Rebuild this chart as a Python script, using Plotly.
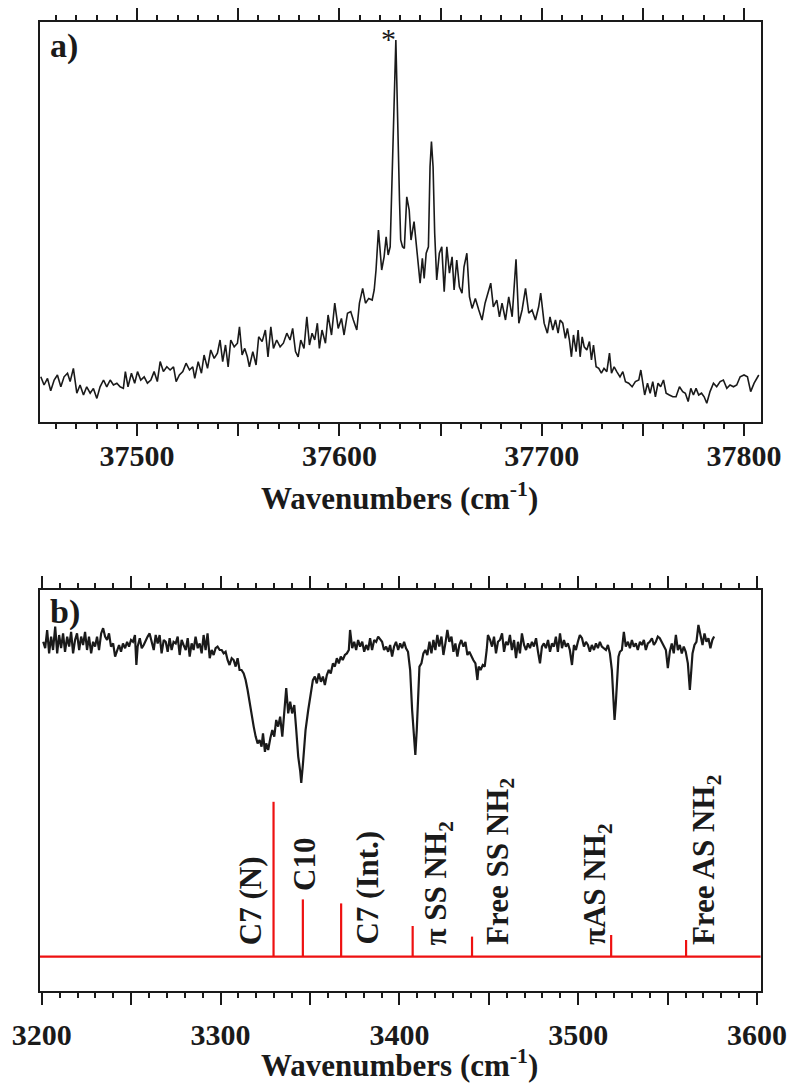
import plotly.graph_objects as go

# ---------------- panel a) : electronic spectrum ----------------
uv_wavenumber = [
    37452.4, 37454.0, 37455.7, 37457.3, 37459.0, 37460.6, 37462.3, 37463.9, 37465.6, 37466.9,
    37468.5, 37470.2, 37471.8, 37473.5, 37475.1, 37476.8, 37478.4, 37480.1, 37481.7, 37483.4,
    37485.0, 37486.7, 37488.3, 37490.0, 37491.6, 37493.2, 37494.2, 37495.5, 37497.2, 37498.8,
    37500.2, 37501.8, 37503.5, 37505.1, 37506.8, 37508.4, 37510.0, 37511.4, 37513.0, 37514.7,
    37516.3, 37518.0, 37519.3, 37520.9, 37522.6, 37524.2, 37525.9, 37527.5, 37528.5, 37530.2,
    37531.8, 37533.1, 37534.8, 37536.4, 37538.1, 37539.7, 37541.0, 37542.3, 37543.7, 37545.0,
    37546.3, 37548.0, 37549.6, 37550.6, 37551.9, 37553.2, 37554.5, 37555.5, 37557.2, 37558.8,
    37560.1, 37561.8, 37563.4, 37564.7, 37566.1, 37567.4, 37569.0, 37570.7, 37572.3, 37574.0,
    37575.6, 37576.9, 37578.3, 37579.6, 37580.9, 37582.5, 37583.9, 37585.2, 37586.5, 37587.8,
    37589.1, 37590.1, 37591.4, 37593.1, 37594.4, 37596.1, 37597.7, 37599.4, 37601.0, 37602.3,
    37604.0, 37605.6, 37606.9, 37608.6, 37609.9, 37611.5, 37612.9, 37614.5, 37616.2, 37617.2,
    37618.1, 37619.3, 37620.9, 37622.1, 37623.1, 37624.1, 37625.1, 37626.0, 37627.0, 37627.9,
    37628.5, 37629.0, 37629.7, 37630.3, 37631.2, 37632.1, 37633.3, 37634.5, 37635.4, 37636.9,
    37637.9, 37639.1, 37639.9, 37641.0, 37641.9, 37642.9, 37644.0, 37644.8, 37645.5, 37646.3,
    37647.1, 37648.1, 37649.4, 37650.6, 37651.8, 37653.1, 37654.4, 37655.7, 37656.7, 37658.0,
    37659.3, 37660.6, 37661.6, 37663.0, 37664.3, 37665.6, 37667.2, 37668.9, 37670.5, 37672.0,
    37673.7, 37674.8, 37676.1, 37677.8, 37679.1, 37680.4, 37682.1, 37683.7, 37685.4, 37687.3,
    37688.7, 37690.3, 37692.0, 37693.6, 37695.2, 37696.9, 37698.5, 37699.5, 37701.2, 37702.8,
    37704.1, 37705.5, 37706.8, 37708.1, 37709.1, 37710.4, 37711.7, 37712.7, 37713.7, 37714.7,
    37715.7, 37717.0, 37718.0, 37719.0, 37720.0, 37721.0, 37722.3, 37723.6, 37724.6, 37725.6,
    37726.9, 37728.2, 37729.5, 37730.8, 37732.2, 37733.5, 37734.5, 37735.8, 37737.1, 37738.7,
    37740.1, 37741.4, 37743.0, 37744.7, 37746.3, 37748.0, 37749.0, 37750.0, 37750.9, 37752.3,
    37753.6, 37754.9, 37756.2, 37757.5, 37758.8, 37760.2, 37761.5, 37763.1, 37764.8, 37766.4,
    37768.1, 37769.7, 37771.0, 37772.4, 37773.7, 37775.0, 37776.3, 37777.6, 37779.0, 37780.3,
    37781.6, 37783.2, 37784.9, 37786.5, 37788.2, 37789.8, 37791.5, 37793.1, 37794.8, 37796.4,
    37798.1, 37800.0, 37801.7, 37803.3, 37805.0, 37807.3,
]
uv_signal = [
    11.3, 9.25, 10.9, 7.8, 10.5, 11.75, 8.8, 11.3, 12.2, 10.1,
    13.4, 7.2, 9.25, 6.75, 8.8, 7.2, 8.4, 5.9, 8.8, 10.5,
    8.8, 10.5, 9.25, 9.7, 8.8, 8.4, 12.6, 8.8, 12.2, 9.7,
    12.6, 10.5, 11.3, 9.7, 10.5, 12.6, 10.1, 15.1, 12.6, 13.8,
    13.0, 13.8, 10.1, 11.75, 12.6, 14.7, 13.0, 13.8, 10.9, 15.1,
    12.2, 16.75, 13.4, 18.0, 15.9, 17.2, 20.5, 15.1, 19.25, 13.8,
    20.5, 18.8, 19.7, 23.8, 16.75, 18.4, 16.3, 13.8, 17.6, 14.25,
    21.3, 20.1, 23.0, 16.3, 23.8, 18.4, 20.5, 18.8, 19.7, 22.2,
    20.5, 23.4, 17.6, 16.3, 20.5, 18.4, 26.3, 19.25, 22.2, 20.5,
    24.7, 18.4, 23.0, 19.7, 26.75, 21.75, 29.7, 23.4, 25.9, 21.75,
    27.2, 27.6, 25.5, 23.0, 29.7, 33.4, 29.7, 30.9, 30.5, 33.0,
    38.0, 48.0, 38.0, 41.3, 46.3, 41.75, 43.8, 63.8, 78.8, 95.5,
    78.8, 70.9, 55.5, 45.5, 43.8, 43.4, 56.3, 53.0, 45.5, 50.1,
    44.7, 37.6, 34.7, 40.9, 35.9, 42.2, 43.8, 63.8, 70.1, 63.8,
    47.2, 35.5, 42.2, 43.8, 32.6, 43.8, 37.2, 41.3, 33.0, 40.5,
    33.8, 32.2, 38.8, 42.2, 31.3, 28.4, 30.9, 28.0, 25.5, 29.7,
    33.0, 34.7, 28.8, 30.5, 26.3, 29.7, 25.5, 31.3, 26.3, 40.7,
    24.7, 28.0, 33.4, 27.2, 28.0, 25.5, 28.8, 32.2, 24.7, 22.2,
    26.3, 23.0, 25.5, 22.2, 25.5, 24.7, 20.9, 23.4, 20.5, 16.3,
    21.75, 17.6, 23.0, 16.3, 21.3, 18.8, 18.0, 20.1, 15.5, 19.25,
    13.8, 13.4, 12.2, 13.4, 12.6, 17.2, 12.2, 13.8, 12.6, 11.3,
    12.6, 10.1, 9.7, 8.8, 10.1, 10.5, 13.0, 9.25, 6.75, 9.7,
    7.2, 10.1, 6.3, 9.7, 8.8, 10.5, 7.2, 6.75, 6.3, 6.3,
    8.8, 7.6, 7.2, 5.1, 8.4, 6.75, 8.4, 6.75, 7.2, 6.3,
    4.7, 7.6, 9.7, 8.8, 10.1, 10.5, 8.4, 9.25, 8.8, 9.25,
    11.3, 11.75, 11.3, 7.6, 9.7, 11.75,
]

# ---------------- panel b) : IR spectrum ----------------
ir_wavenumber = [
    3200.8, 3201.9, 3203.0, 3204.1, 3205.2, 3206.3, 3207.5, 3208.6, 3209.7, 3210.8,
    3211.9, 3213.0, 3214.2, 3215.3, 3216.4, 3217.5, 3218.6, 3219.7, 3220.9, 3222.0,
    3223.1, 3224.2, 3225.3, 3226.4, 3227.6, 3228.7, 3229.8, 3230.9, 3232.0, 3233.2,
    3234.3, 3235.4, 3236.5, 3237.6, 3238.7, 3239.9, 3241.0, 3242.1, 3243.2, 3244.3,
    3245.4, 3246.6, 3247.7, 3248.8, 3249.9, 3251.0, 3252.1, 3252.9, 3253.6, 3254.8,
    3255.9, 3257.0, 3258.1, 3259.2, 3260.3, 3261.5, 3262.6, 3263.7, 3264.8, 3265.9,
    3267.0, 3268.2, 3269.3, 3270.4, 3271.5, 3272.6, 3273.7, 3274.9, 3276.0, 3277.1,
    3278.2, 3279.3, 3280.5, 3281.6, 3282.7, 3283.8, 3284.9, 3286.0, 3287.2, 3288.3,
    3289.4, 3290.5, 3291.6, 3292.7, 3293.9, 3295.0, 3296.1, 3297.2, 3298.3, 3299.5,
    3300.6, 3301.7, 3302.8, 3303.9, 3305.0, 3306.2, 3307.3, 3308.4, 3309.5, 3310.6,
    3311.7, 3312.9, 3314.0, 3315.1, 3316.2, 3317.3, 3318.5, 3319.6, 3320.7, 3321.8,
    3322.9, 3323.7, 3324.8, 3325.5, 3326.6, 3327.8, 3328.9, 3330.0, 3331.1, 3332.2,
    3333.3, 3334.5, 3335.6, 3336.7, 3337.8, 3338.9, 3340.0, 3341.2, 3342.3, 3343.4,
    3344.5, 3345.1, 3346.0, 3347.5, 3349.0, 3350.5, 3351.6, 3352.7, 3353.8, 3354.9,
    3356.1, 3357.2, 3358.3, 3359.4, 3360.5, 3361.6, 3362.8, 3363.9, 3365.0, 3366.1,
    3367.2, 3368.3, 3369.5, 3370.6, 3371.7, 3372.4, 3373.6, 3374.7, 3375.8, 3376.9,
    3378.0, 3379.2, 3380.3, 3381.4, 3382.5, 3383.6, 3384.7, 3385.9, 3387.0, 3388.1,
    3390.3, 3391.4, 3392.6, 3393.7, 3394.8, 3395.9, 3397.0, 3398.1, 3399.3, 3400.4,
    3401.5, 3402.6, 3403.7, 3404.8, 3406.0, 3407.1, 3408.2, 3408.9, 3409.7, 3410.4,
    3411.2, 3412.3, 3413.4, 3414.5, 3415.6, 3416.8, 3417.9, 3419.0, 3420.1, 3421.2,
    3422.3, 3423.5, 3424.6, 3425.7, 3426.8, 3427.9, 3429.1, 3430.2, 3431.3, 3432.4,
    3433.5, 3434.6, 3435.8, 3436.9, 3438.0, 3439.1, 3440.2, 3441.3, 3442.5, 3443.6,
    3444.3, 3445.4, 3446.6, 3447.7, 3448.8, 3449.5, 3450.7, 3451.8, 3452.9, 3454.0,
    3455.1, 3456.2, 3457.4, 3458.5, 3459.6, 3460.7, 3461.8, 3462.9, 3464.1, 3465.2,
    3466.3, 3467.4, 3468.5, 3469.7, 3470.8, 3471.9, 3473.0, 3474.1, 3475.2, 3476.4,
    3477.5, 3478.6, 3479.7, 3480.8, 3481.9, 3483.1, 3484.2, 3485.3, 3486.4, 3487.5,
    3488.6, 3489.8, 3490.9, 3492.0, 3493.1, 3494.2, 3495.3, 3496.5, 3497.6, 3498.7,
    3499.8, 3500.9, 3502.1, 3503.2, 3504.3, 3505.4, 3506.5, 3507.6, 3508.8, 3509.9,
    3511.0, 3512.1, 3513.2, 3514.3, 3515.5, 3516.6, 3517.7, 3518.8, 3519.6, 3520.3,
    3521.0, 3521.8, 3522.5, 3523.3, 3524.4, 3525.5, 3526.6, 3527.8, 3528.9, 3530.0,
    3531.1, 3532.2, 3533.3, 3534.5, 3535.6, 3536.7, 3537.8, 3538.9, 3540.0, 3541.2,
    3542.3, 3543.4, 3544.5, 3545.6, 3546.7, 3547.9, 3549.0, 3550.1, 3551.2, 3552.3,
    3553.4, 3554.6, 3555.7, 3556.8, 3557.9, 3559.0, 3560.1, 3561.3, 3562.4, 3563.1,
    3563.9, 3565.0, 3566.1, 3567.2, 3568.3, 3569.5, 3570.6, 3571.7, 3572.8, 3573.9,
    3575.0, 3576.0,
]
ir_signal = [
    87.3, 85.7, 90.25, 84.4, 88.6, 85.25, 91.1, 84.4, 89.0, 85.7,
    89.4, 84.8, 88.6, 86.1, 89.8, 84.4, 87.75, 89.4, 85.25, 88.6,
    86.5, 89.8, 85.25, 88.6, 84.4, 87.3, 86.1, 88.6, 85.25, 89.4,
    90.7, 88.6, 87.75, 89.4, 86.1, 86.9, 83.6, 85.25, 86.5, 84.8,
    86.9, 85.7, 87.3, 86.1, 87.75, 87.3, 89.0, 81.5, 86.1, 88.2,
    85.7, 86.5, 87.75, 88.6, 89.4, 87.3, 85.25, 89.0, 86.9, 89.0,
    84.4, 87.75, 87.3, 84.8, 88.2, 85.25, 87.3, 86.9, 88.6, 84.0,
    87.75, 86.5, 85.25, 88.2, 83.6, 86.9, 85.25, 88.6, 85.7, 86.9,
    84.4, 89.0, 85.25, 89.4, 83.2, 85.25, 84.0, 85.7, 86.1, 85.25,
    85.25, 84.4, 84.8, 82.75, 81.5, 83.2, 82.75, 81.1, 83.2, 80.25,
    80.25, 79.4, 77.75, 75.25, 71.9, 69.4, 66.1, 63.6, 61.9, 62.75,
    61.1, 64.4, 59.8, 61.9, 60.25, 63.2, 65.25, 63.6, 67.75, 66.1,
    68.6, 63.6, 70.25, 75.7, 69.4, 72.3, 69.4, 71.5, 65.25, 58.6,
    55.0, 52.0, 56.5, 65.25, 70.25, 74.4, 77.75, 78.6, 76.9, 79.4,
    77.3, 78.6, 76.5, 79.0, 80.25, 79.4, 81.9, 81.1, 83.2, 81.9,
    83.6, 82.75, 84.0, 84.4, 85.25, 90.25, 85.7, 87.3, 85.25, 87.75,
    86.1, 87.3, 84.8, 86.5, 85.25, 88.2, 85.25, 87.75, 87.3, 88.6,
    87.3, 85.25, 86.1, 84.8, 86.5, 83.6, 86.1, 87.3, 85.25, 86.9,
    85.7, 87.3, 85.7, 84.8, 80.25, 70.25, 61.9, 59.0, 65.25, 75.25,
    81.1, 81.9, 84.4, 85.25, 84.0, 87.3, 84.4, 87.75, 85.25, 89.0,
    86.1, 88.6, 84.0, 86.9, 90.25, 87.3, 88.6, 84.8, 86.9, 83.6,
    86.5, 87.75, 86.1, 87.3, 84.0, 84.8, 83.6, 82.75, 81.9, 77.75,
    81.1, 80.25, 81.5, 81.1, 85.25, 89.0, 87.75, 86.1, 88.6, 84.4,
    87.3, 87.75, 89.4, 84.8, 87.3, 86.5, 89.0, 85.25, 87.75, 83.2,
    87.3, 84.4, 89.4, 86.5, 85.25, 86.9, 85.7, 87.3, 86.1, 88.2,
    84.8, 81.9, 86.1, 86.9, 85.7, 87.75, 84.8, 86.9, 86.1, 88.6,
    84.8, 89.4, 85.7, 87.75, 86.1, 86.9, 85.25, 81.5, 86.5, 85.25,
    87.3, 89.0, 88.2, 86.1, 87.3, 86.5, 84.8, 86.5, 85.25, 86.9,
    85.7, 87.3, 86.1, 85.7, 85.25, 86.5, 84.4, 80.25, 71.9, 67.75,
    71.9, 78.6, 83.6, 84.8, 85.25, 89.8, 86.1, 87.3, 85.7, 87.75,
    86.1, 86.9, 85.25, 87.3, 86.5, 87.75, 85.25, 86.9, 87.3, 88.2,
    86.5, 87.3, 88.6, 88.2, 87.3, 86.5, 85.25, 80.7, 84.8, 86.9,
    84.4, 89.0, 85.25, 86.5, 84.4, 86.1, 84.8, 81.9, 75.25, 79.4,
    84.4, 86.5, 87.3, 91.5, 88.6, 86.5, 89.4, 87.3, 88.2, 85.7,
    87.75, 88.6,
]

# calculated stick spectrum
stick_wavenumber = [3329.6, 3346.0, 3367.4, 3407.4, 3440.6, 3518.4, 3560.3]
stick_height = [47.3, 22.9, 21.9, 16.25, 13.6, 14.0, 12.75]
stick_baseline = 8.6
stick_labels = ["C7 (N)", "C10", "C7 (Int.)", "π SS NH<sub>2</sub>",
                "Free SS NH<sub>2</sub>", "πAS NH<sub>2</sub>", "Free AS NH<sub>2</sub>"]
label_wavenumber = [3316.8, 3346.9, 3381.6, 3421.8, 3455.9, 3510.5, 3571.5]
label_bottom = [11.0, 24.5, 11.0, 11.0, 11.0, 11.0, 11.0]

# major ticks every 50 cm-1, labelled every 100 cm-1
uv_major = [37450, 37500, 37550, 37600, 37650, 37700, 37750, 37800]
uv_ticktext = ["", "37500", "", "37600", "", "37700", "", "37800"]
ir_major = [3200, 3250, 3300, 3350, 3400, 3450, 3500, 3550, 3600]
ir_ticktext = ["3200", "", "3300", "", "3400", "", "3500", "", "3600"]

W, H = 791, 1083
SERIF = "Liberation Serif"
INK = "#1a1a1a"
RED = "#ee1111"

fig = go.Figure()
fig.add_trace(go.Scatter(x=uv_wavenumber, y=uv_signal, mode="lines",
                         line=dict(color=INK, width=1.6), xaxis="x", yaxis="y",
                         showlegend=False, hoverinfo="skip"))
fig.add_trace(go.Scatter(x=ir_wavenumber, y=ir_signal, mode="lines",
                         line=dict(color=INK, width=2.2), xaxis="x2", yaxis="y2",
                         showlegend=False, hoverinfo="skip"))

# stick baseline across the full window, then each stick
fig.add_trace(go.Scatter(x=[3199, 3602], y=[stick_baseline, stick_baseline], mode="lines",
                         line=dict(color=RED, width=2.2), xaxis="x2", yaxis="y2",
                         showlegend=False, hoverinfo="skip"))
sx, sy = [], []
for w, h in zip(stick_wavenumber, stick_height):
    sx += [w, w, None]
    sy += [stick_baseline, h, None]
fig.add_trace(go.Scatter(x=sx, y=sy, mode="lines", line=dict(color=RED, width=2.2),
                         xaxis="x2", yaxis="y2", showlegend=False, hoverinfo="skip"))

tickfont = dict(family=SERIF, size=30, color=INK, weight="bold")
axis_x = dict(ticks="outside", ticklen=12, tickwidth=2, tickcolor=INK,
              showline=True, linewidth=2, linecolor=INK, mirror="ticks",
              showgrid=False, zeroline=False, automargin=False, tickmode="array",
              tickfont=tickfont, side="bottom")
frame_y = dict(showline=True, linewidth=2, linecolor=INK, mirror=True,
               showgrid=False, zeroline=False, showticklabels=False, ticks="")
X_DOM = [40 / W, 761 / W]


def minor(t0):
    return dict(tick0=t0, dtick=10, ticks="outside", ticklen=5, tickwidth=1.6, tickcolor=INK)


fig.update_layout(
    width=W, height=H, margin=dict(l=0, r=0, t=0, b=0),
    paper_bgcolor="white", plot_bgcolor="white", showlegend=False,
    xaxis=dict(domain=X_DOM, anchor="y", range=[37452, 37808.4],
               tickvals=uv_major, ticktext=uv_ticktext,
               ticklabelstandoff=-6, minor=minor(37450), **axis_x),
    yaxis=dict(domain=[1 - 422 / H, 1 - 22 / H], anchor="x", range=[0, 100], **frame_y),
    xaxis2=dict(domain=X_DOM, anchor="y2", range=[3199, 3602.2],
                tickvals=ir_major, ticktext=ir_ticktext,
                ticklabelstandoff=4, minor=minor(3200), **axis_x),
    yaxis2=dict(domain=[1 - 991 / H, 1 - 590 / H], anchor="x2", range=[0, 100.25], **frame_y),
)

title_font = dict(family=SERIF, size=31, color=INK, weight="bold")
annotations = [
    dict(text="Wavenumbers (cm<sup>-1</sup>)", xref="paper", yref="paper",
         x=400 / W, y=1 - 496 / H, xanchor="center", yanchor="middle",
         showarrow=False, font=title_font),
    dict(text="Wavenumbers (cm<sup>-1</sup>)", xref="paper", yref="paper",
         x=400 / W, y=1 - 1063 / H, xanchor="center", yanchor="middle",
         showarrow=False, font=title_font),
    dict(text="a)", xref="paper", yref="paper", x=48 / W, y=1 - 25 / H,
         xanchor="left", yanchor="top", showarrow=False,
         font=dict(family=SERIF, size=34, color=INK, weight="bold")),
    dict(text="b)", xref="paper", yref="paper", x=48 / W, y=1 - 591 / H,
         xanchor="left", yanchor="top", showarrow=False,
         font=dict(family=SERIF, size=34, color=INK, weight="bold")),
    dict(text="*", xref="x", yref="y", x=37624.2, y=96.0,
         xanchor="center", yanchor="middle", showarrow=False,
         font=dict(family=SERIF, size=30, color=INK)),
]
for txt, xw, yb in zip(stick_labels, label_wavenumber, label_bottom):
    annotations.append(dict(text=txt, xref="x2", yref="y2", x=xw, y=yb,
                            xanchor="center", yanchor="bottom", textangle=-90,
                            showarrow=False, font=title_font))
fig.update_layout(annotations=annotations)

fig.write_html("out.html")
